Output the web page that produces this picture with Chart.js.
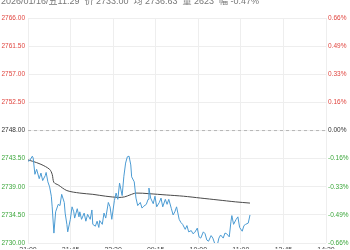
<!DOCTYPE html>
<html>
<head>
<meta charset="utf-8">
<title>intraday</title>
<script src="https://cdn.jsdelivr.net/npm/chart.js@4.4.1/dist/chart.umd.min.js"></script>
<style>
  html, body { margin: 0; padding: 0; background: #fff; }
  #wrap { position: relative; width: 350px; height: 250px; overflow: hidden; }
  #head {
    position: absolute; left: 1px; top: -6px; white-space: pre;
    font: 9px "Liberation Sans", "Noto Sans CJK SC", sans-serif; color: #777;
  }
  canvas { position: absolute; left: 0; top: 0; }
</style>
</head>
<body>
<div id="wrap">
  <canvas id="c" width="350" height="250"></canvas>
  <div id="head">2026/01/16/五11:29  价 2733.00  均 2736.63  量 2623  幅 -0.47%</div>
</div>
<script>
"use strict";

// --- Data (minutes since 21:00 open, trading time only) ------------------- //
const prevClose = 2748;
const fullMinutes = 345;

const xTickLabels = ["21:00", "21:45", "22:30", "09:15", "10:00", "11:00", "13:45", "14:30"];
const yTicks = [2730, 2734.5, 2739, 2743.5, 2748, 2752.5, 2757, 2761.5, 2766];
const pctLabels = ["-0.66%", "-0.49%", "-0.33%", "-0.16%", "0.00%", "0.16%", "0.33%", "0.49%", "0.66%"];

const priceMin = [
  0, 2, 5, 6, 8, 10, 13, 15, 17, 20,
  21, 23, 25, 27, 28, 30, 32, 35, 37, 39,
  42, 43, 45, 46, 49, 51, 53, 54, 57, 59,
  60, 62, 65, 67, 69, 72, 74, 75, 78, 80,
  82, 83, 86, 88, 90, 93, 95, 97, 100, 102,
  104, 106, 109, 111, 113, 115, 117, 119, 120, 123,
  125, 127, 130, 132, 134, 137, 139, 140, 142, 145,
  147, 149, 152, 154, 156, 159, 161, 163, 166, 168,
  170, 172, 175, 177, 179, 182, 184, 186, 189, 191,
  193, 196, 198, 200, 203, 205, 207, 209, 212, 214,
  216, 219, 221, 223, 226, 228, 230, 233, 235, 236,
  238, 241, 243, 245, 248, 250, 252, 255, 257,
];
const priceVal = [
  2743.1, 2743.2, 2743.9, 2743.6, 2741.0, 2741.8, 2740.3, 2741.2, 2740.0, 2740.8,
  2741.3, 2739.8, 2739.0, 2737.5, 2735.8, 2731.6, 2735.0, 2736.2, 2736.0, 2737.8,
  2736.5, 2734.8, 2733.0, 2731.8, 2733.8, 2735.8, 2735.0, 2734.0, 2735.5, 2734.2,
  2735.0, 2733.8, 2734.8, 2733.5, 2734.6, 2733.8, 2735.3, 2733.0, 2732.7, 2733.5,
  2732.5, 2733.6, 2733.0, 2734.8, 2734.0, 2736.5, 2735.8, 2733.8, 2736.8, 2738.0,
  2737.0, 2739.6, 2737.6, 2740.7, 2742.8, 2743.8, 2743.9, 2742.5, 2740.6, 2739.8,
  2737.2, 2736.0, 2736.5, 2735.6, 2735.9, 2736.2, 2737.0, 2738.8, 2737.2, 2736.3,
  2737.5, 2735.8, 2736.5, 2737.2, 2735.8, 2737.0, 2736.2, 2737.0, 2735.5, 2734.5,
  2735.0, 2735.8, 2733.8, 2733.3, 2733.0, 2732.2, 2732.8, 2731.8, 2732.0, 2731.5,
  2731.7, 2732.4, 2731.0, 2730.8, 2731.8, 2731.5, 2730.5, 2730.3, 2731.2, 2730.8,
  2730.0, 2729.6, 2730.8, 2731.3, 2730.8, 2731.6, 2731.5, 2731.0, 2733.5, 2734.4,
  2733.0, 2733.8, 2734.2, 2732.5, 2731.9, 2732.8, 2733.0, 2733.2, 2734.5,
];

const avgMin = [0, 5, 15, 25, 28, 30, 35, 45, 60, 75, 90, 105, 112, 118, 125, 140, 160, 180, 200, 220, 240, 257];
const avgVal = [
  2743.3, 2743.1, 2742.6, 2741.8, 2741.0, 2739.7, 2739.3, 2738.4, 2738.0, 2737.8, 2737.5,
  2737.3, 2737.4, 2737.7, 2738.0, 2737.9, 2737.7, 2737.5, 2737.2, 2736.9, 2736.6, 2736.4,
];

// --- Colours -------------------------------------------------------------- //
const RED = "#e0453f";
const GREEN = "#3aa63a";
const GRID = "#eeeeee";

function zip(xs, ys) {
  return xs.map((x, i) => ({ x, y: ys[i] }));
}

function tickColor(ctx) {
  const v = ctx.tick && ctx.tick.value;
  if (v > prevClose) return RED;
  if (v < prevClose) return GREEN;
  return "#333";
}

const yLimits = { min: yTicks[0], max: yTicks[yTicks.length - 1] };
const setYTicks = (scale) => { scale.ticks = yTicks.map((v) => ({ value: v })); };

Chart.defaults.font.family = '"Liberation Sans", Arial, sans-serif';

new Chart(document.getElementById("c"), {
  type: "line",
  data: {
    datasets: [
      {
        label: "price",
        data: zip(priceMin, priceVal),
        borderColor: "#4b9bd3",
        borderWidth: 1,
        pointRadius: 0,
        tension: 0,
        yAxisID: "y",
      },
      {
        label: "avg",
        data: zip(avgMin, avgVal),
        borderColor: "#4a4a4a",
        borderWidth: 1,
        pointRadius: 0,
        tension: 0.3,
        yAxisID: "y",
      },
      {
        label: "prev close",
        data: [{ x: 0, y: prevClose }, { x: fullMinutes, y: prevClose }],
        borderColor: "#b5b5b5",
        borderWidth: 1,
        borderDash: [3, 3],
        pointRadius: 0,
        yAxisID: "y",
      },
    ],
  },
  options: {
    responsive: false,
    animation: false,
    devicePixelRatio: 1,
    layout: { padding: { top: 18, left: 0, right: 0, bottom: 0 } },
    plugins: { legend: { display: false }, tooltip: { enabled: false } },
    scales: {
      x: {
        type: "linear",
        min: 0,
        max: fullMinutes,
        afterBuildTicks: (scale) => {
          scale.ticks = xTickLabels.map((_, i) => ({ value: (fullMinutes * i) / (xTickLabels.length - 1) }));
        },
        afterFit: (scale) => { scale.height = 6; },
        grid: { color: GRID, drawTicks: false },
        border: { display: false },
        ticks: {
          padding: 3,
          maxRotation: 0,
          autoSkip: false,
          color: "#444",
          font: { size: 7 },
          callback: (v, i) => xTickLabels[i],
        },
      },
      y: {
        position: "left",
        ...yLimits,
        afterBuildTicks: setYTicks,
        afterFit: (scale) => { scale.width = 28; },
        grid: { color: GRID, drawTicks: false },
        border: { display: false },
        ticks: {
          padding: 3,
          color: tickColor,
          font: { size: 6.5 },
          callback: (v) => Number(v).toFixed(2),
        },
      },
      y2: {
        position: "right",
        ...yLimits,
        afterBuildTicks: setYTicks,
        afterFit: (scale) => { scale.width = 24; },
        grid: { display: false, drawTicks: false },
        border: { display: false },
        ticks: {
          padding: 2,
          color: tickColor,
          font: { size: 6.5 },
          callback: (v, i) => pctLabels[i],
        },
      },
    },
  },
});
</script>
</body>
</html>
